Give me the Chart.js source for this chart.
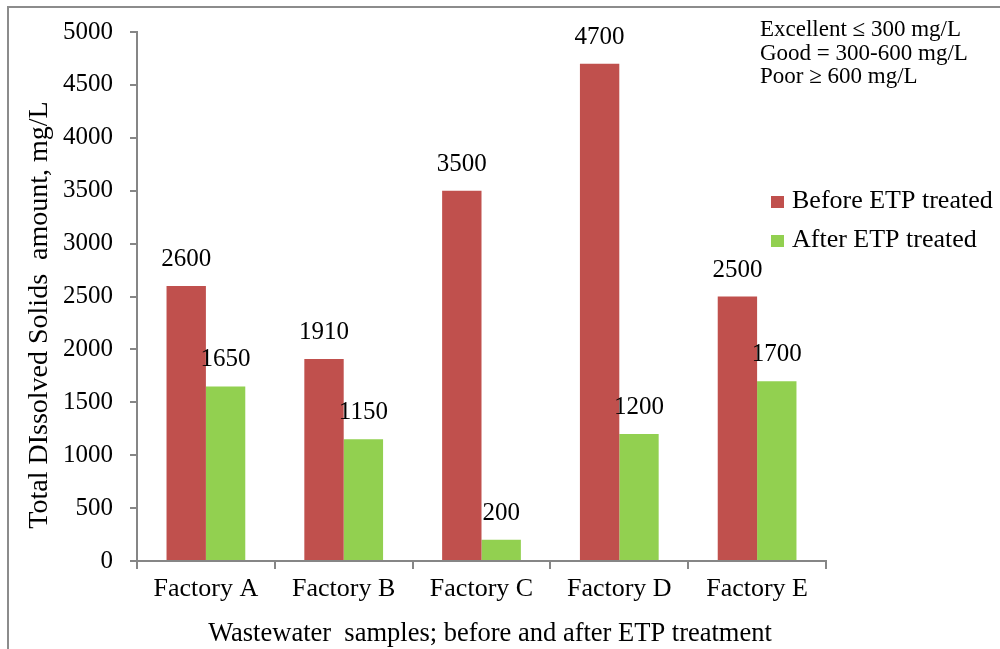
<!DOCTYPE html>
<html>
<head>
<meta charset="utf-8">
<title>Total Dissolved Solids before and after ETP treatment</title>
<script src="https://cdn.jsdelivr.net/npm/chart.js@4.4.0/dist/chart.umd.min.js"></script>
<style>
  html, body { margin: 0; padding: 0; background: #ffffff; }
  #wrap { position: relative; width: 1000px; height: 649px; }
</style>
</head>
<body>
<div id="wrap"><canvas id="tds"></canvas></div>
<script>
// Factories sampled and their TDS readings (mg/L)
const categories = ['Factory A', 'Factory B', 'Factory C', 'Factory D', 'Factory E'];
const beforeEtp = [2600, 1910, 3500, 4700, 2500];
const afterEtp = [1650, 1150, 200, 1200, 1700];
const seriesNames = ['Before ETP treated', 'After ETP treated'];
const seriesColors = ['#C0504D', '#92D050'];

// Value axis range and step
const yMin = 0;
const yMax = 5000;
const yStep = 500;

// Axis titles and the quality classes printed in the corner
const yTitle = 'Total DIssolved Solids  amount, mg/L';
const xTitle = 'Wastewater  samples; before and after ETP treatment';
const qualityNotes = ['Excellent \u2264 300 mg/L', 'Good = 300-600 mg/L', 'Poor \u2265 600 mg/L'];

const SERIF = '"Liberation Serif", "Times New Roman", serif';
const AXIS_GREY = '#868686';

// Frame, titles, legend and notes drawn around the plot
const decorations = {
  id: 'decorations',
  beforeDraw(chart) {
    const ctx = chart.ctx;
    ctx.save();
    ctx.strokeStyle = '#8c8c8c';
    ctx.lineWidth = 2;
    ctx.beginPath();
    ctx.moveTo(8, chart.height);
    ctx.lineTo(8, 7);
    ctx.lineTo(chart.width, 7);
    ctx.stroke();
    ctx.restore();
  },
  afterDraw(chart) {
    const ctx = chart.ctx;
    ctx.save();
    ctx.fillStyle = '#000';

    // y-axis title
    ctx.font = '28px ' + SERIF;
    ctx.textAlign = 'center';
    ctx.textBaseline = 'alphabetic';
    ctx.save();
    ctx.translate(47, 315);
    ctx.rotate(-Math.PI / 2);
    ctx.fillText(yTitle, 0, 0);
    ctx.restore();

    // x-axis title
    ctx.font = '26.5px ' + SERIF;
    ctx.fillText(xTitle, 490, 641);

    // legend
    ctx.textAlign = 'left';
    ctx.font = '26px ' + SERIF;
    const legendBase = [208, 247];
    chart.data.datasets.forEach((ds, i) => {
      ctx.fillStyle = ds.backgroundColor;
      ctx.fillRect(771, legendBase[i] - 12, 13, 12);
      ctx.fillStyle = '#000';
      ctx.fillText(ds.label, 792, legendBase[i]);
    });

    // quality classes
    ctx.font = '23px ' + SERIF;
    qualityNotes.forEach((t, i) => {
      ctx.fillText(t, 760, 36 + i * 23.5);
    });
    ctx.restore();
  },
  afterDatasetsDraw(chart) {
    // value labels above every bar
    const ctx = chart.ctx;
    ctx.save();
    ctx.font = '25px ' + SERIF;
    ctx.fillStyle = '#000';
    ctx.textAlign = 'center';
    ctx.textBaseline = 'alphabetic';
    chart.data.datasets.forEach((ds, di) => {
      const meta = chart.getDatasetMeta(di);
      meta.data.forEach((bar, i) => {
        ctx.fillText(String(ds.data[i]), bar.x, bar.y - 20);
      });
    });
    ctx.restore();
  }
};

new Chart(document.getElementById('tds'), {
  type: 'bar',
  data: {
    labels: categories,
    datasets: [
      { label: seriesNames[0], data: beforeEtp, backgroundColor: seriesColors[0] },
      { label: seriesNames[1], data: afterEtp, backgroundColor: seriesColors[1] }
    ]
  },
  options: {
    responsive: true,
    maintainAspectRatio: false,
    animation: false,
    devicePixelRatio: 1,
    categoryPercentage: 2 / 3.5,
    barPercentage: 1.0,
    layout: { padding: { left: 0, top: 29, right: 174, bottom: 0 } },
    plugins: {
      legend: { display: false },
      tooltip: { enabled: false }
    },
    scales: {
      x: {
        grid: { display: true, drawOnChartArea: false, offset: true, tickLength: 8, color: AXIS_GREY, lineWidth: 2 },
        border: { display: true, color: AXIS_GREY, width: 2 },
        ticks: { color: '#000', font: { family: SERIF, size: 26 }, padding: 5, maxRotation: 0 },
        afterFit(scale) { scale.height = 88; }
      },
      y: {
        min: yMin,
        max: yMax,
        grid: { display: true, drawOnChartArea: false, tickLength: 7, color: AXIS_GREY, lineWidth: 2 },
        border: { display: true, color: AXIS_GREY, width: 2 },
        ticks: {
          stepSize: yStep,
          color: '#000',
          font: { family: SERIF, size: 25 },
          padding: 17,
          callback: (v) => String(v)
        },
        afterFit(scale) { scale.width = 137; }
      }
    }
  },
  plugins: [decorations]
});
</script>
</body>
</html>
